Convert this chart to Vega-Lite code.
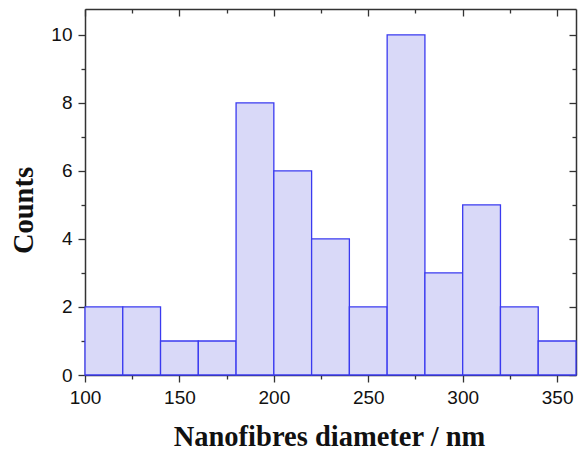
{
  "$schema": "https://vega.github.io/schema/vega-lite/v6.json",
  "autosize": {"type": "none"},
  "padding": {"left": 85, "top": 9, "right": 6, "bottom": 75},
  "width": 491,
  "height": 366,
  "background": "white",
  "config": {
    "view": {"stroke": null},
    "axis": {
      "grid": false,
      "domainColor": "#333333",
      "domainWidth": 1.5,
      "tickColor": "#333333",
      "tickWidth": 1.3,
      "labelFont": "Liberation Sans",
      "labelFontSize": 19,
      "labelColor": "#111111",
      "titleFont": "Liberation Serif",
      "titleFontWeight": "bold",
      "titleFontSize": 28.5,
      "titleColor": "#111111"
    }
  },
  "data": {
    "values": [
      {"bin_start": 100, "bin_end": 120, "count": 2},
      {"bin_start": 120, "bin_end": 140, "count": 2},
      {"bin_start": 140, "bin_end": 160, "count": 1},
      {"bin_start": 160, "bin_end": 180, "count": 1},
      {"bin_start": 180, "bin_end": 200, "count": 8},
      {"bin_start": 200, "bin_end": 220, "count": 6},
      {"bin_start": 220, "bin_end": 240, "count": 4},
      {"bin_start": 240, "bin_end": 260, "count": 2},
      {"bin_start": 260, "bin_end": 280, "count": 10},
      {"bin_start": 280, "bin_end": 300, "count": 3},
      {"bin_start": 300, "bin_end": 320, "count": 5},
      {"bin_start": 320, "bin_end": 340, "count": 2},
      {"bin_start": 340, "bin_end": 360, "count": 1}
    ]
  },
  "layer": [
    {
      "mark": {"type": "bar", "fill": "#d9d9f8", "stroke": "#3a3af0", "strokeWidth": 1.3},
      "encoding": {
        "x": {
          "field": "bin_start", "type": "quantitative",
          "scale": {"domain": [100, 360], "nice": false, "zero": false},
          "axis": {
            "orient": "bottom",
            "values": [100, 125, 150, 175, 200, 225, 250, 275, 300, 325, 350],
            "labelExpr": "datum.value % 50 === 0 ? datum.label : ''",
            "tickSize": {"condition": {"test": "datum.value % 50 !== 0", "value": 4}, "value": 7},
            "labelPadding": 6,
            "labelFlush": false,
            "title": "Nanofibres diameter / nm",
            "titleX": 244,
            "titleY": 70,
            "titleBaseline": "alphabetic",
            "titleAlign": "center"
          }
        },
        "x2": {"field": "bin_end"},
        "y": {
          "field": "count", "type": "quantitative",
          "scale": {"domain": [0, 10.76], "nice": false},
          "axis": {
            "orient": "left",
            "values": [0, 1, 2, 3, 4, 5, 6, 7, 8, 9, 10],
            "labelExpr": "datum.value % 2 === 0 ? datum.label : ''",
            "tickSize": {"condition": {"test": "datum.value % 2 !== 0", "value": 4}, "value": 7},
            "labelPadding": 6,
            "labelFlush": false,
            "title": "Counts",
            "titleX": -62,
            "titleY": 201,
            "titleAngle": -90,
            "titleBaseline": "middle",
            "titleAlign": "center"
          }
        },
        "y2": {"datum": 0}
      }
    },
    {
      "mark": {"type": "bar", "fillOpacity": 0, "strokeOpacity": 0},
      "encoding": {
        "x": {
          "field": "bin_start", "type": "quantitative",
          "axis": {
            "orient": "top",
            "values": [100, 125, 150, 175, 200, 225, 250, 275, 300, 325, 350],
            "labels": false,
            "title": null,
            "tickSize": {"condition": {"test": "datum.value % 50 !== 0", "value": -4}, "value": -7}
          }
        },
        "x2": {"field": "bin_end"},
        "y": {
          "field": "count", "type": "quantitative",
          "axis": {
            "orient": "right",
            "values": [0, 1, 2, 3, 4, 5, 6, 7, 8, 9, 10],
            "labels": false,
            "title": null,
            "tickSize": {"condition": {"test": "datum.value % 2 !== 0", "value": -4}, "value": -7}
          }
        },
        "y2": {"datum": 0}
      }
    }
  ],
  "resolve": {"axis": {"x": "independent", "y": "independent"}}
}
